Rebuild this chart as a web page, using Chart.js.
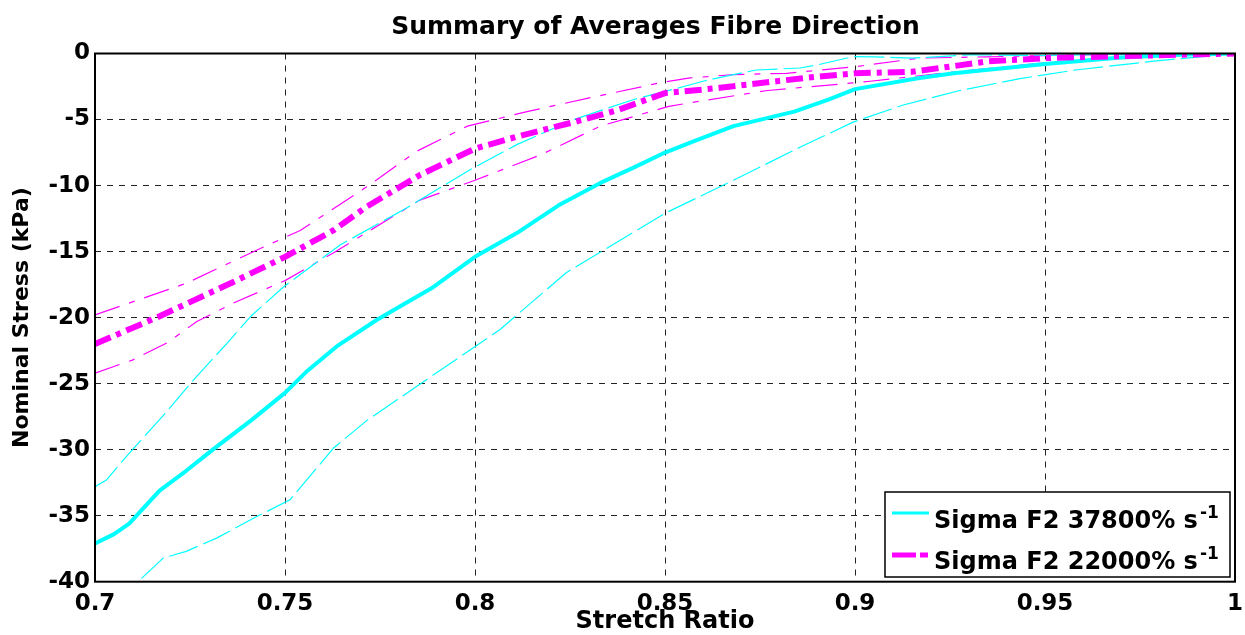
<!DOCTYPE html>
<html>
<head>
<meta charset="utf-8">
<script src="https://cdn.jsdelivr.net/npm/chart.js@4.4.1/dist/chart.umd.min.js"></script>
<style>
  html, body { margin: 0; padding: 0; background: #fff; }
  #wrap { width: 1245px; height: 635px; }
</style>
</head>
<body>
<div id="wrap"><canvas id="c" width="1245" height="635"></canvas></div>
<script>
// ---- data ----
const titleText = 'Summary of Averages Fibre Direction';
const xTitle = 'Stretch Ratio';
const yTitle = 'Nominal Stress (kPa)';
const legendLabels = ['Sigma F2 37800% s', 'Sigma F2 22000% s'];
const legendSup = '-1';

const xTickValues = [0.7, 0.75, 0.8, 0.85, 0.9, 0.95, 1.0];
const xTickLabels = ['0.7', '0.75', '0.8', '0.85', '0.9', '0.95', '1'];
const yTickValues = [-40, -35, -30, -25, -20, -15, -10, -5, 0];
const yTickLabels = ['-40', '-35', '-30', '-25', '-20', '-15', '-10', '-5', '0'];

// cyan (37800 %/s) mean
const cyanMeanX = [0.700,0.705,0.709,0.717,0.724,0.731,0.741,0.750,0.756,0.764,0.774,0.780,0.789,0.800,0.811,0.822,0.833,0.842,0.850,0.858,0.868,0.884,0.893,0.900,0.917,0.926,0.950,0.970,0.985,1.000];
const cyanMeanY = [-37.1,-36.4,-35.6,-33.1,-31.6,-30.0,-27.8,-25.7,-24.0,-22.1,-20.2,-19.2,-17.7,-15.4,-13.6,-11.5,-9.8,-8.6,-7.5,-6.6,-5.5,-4.4,-3.5,-2.7,-1.86,-1.5,-0.8,-0.3,-0.1,0];
// cyan upper bound
const cyanUpX = [0.700,0.703,0.708,0.718,0.726,0.7355,0.741,0.7495,0.7645,0.782,0.7987,0.811,0.826,0.8416,0.855,0.860,0.868,0.874,0.8855,0.890,0.8995,0.905,0.915,0.930,0.950,0.970,1.000];
const cyanUpY = [-32.8,-32.3,-30.6,-27.4,-24.7,-21.7,-19.9,-17.7,-14.5,-11.7,-8.8,-6.9,-5.0,-3.5,-2.5,-2.1,-1.6,-1.25,-1.1,-0.87,-0.24,-0.25,-0.35,-0.1,-0.15,-0.05,0];
// cyan lower bound
const cyanLowX = [0.705,0.7113,0.718,0.724,0.732,0.7417,0.7513,0.7627,0.7715,0.7847,0.8066,0.824,0.850,0.868,0.8855,0.8995,0.9127,0.9276,0.9434,0.958,0.978,1.000];
const cyanLowY = [-41.5,-40,-38.2,-37.7,-36.7,-35.2,-33.8,-29.9,-27.8,-25.2,-20.9,-16.6,-12.1,-9.6,-7.1,-5.2,-3.9,-2.8,-1.9,-1.25,-0.6,0];

// magenta (22000 %/s) mean
const magMeanX = [0.700,0.717,0.7364,0.750,0.7627,0.7715,0.7855,0.800,0.811,0.826,0.8374,0.850,0.8574,0.8645,0.8874,0.900,0.915,0.935,0.950,0.970,1.000];
const magMeanY = [-22.0,-19.9,-17.3,-15.4,-13.4,-11.6,-9.2,-7.2,-6.3,-5.2,-4.3,-3.0,-2.8,-2.6,-1.83,-1.5,-1.38,-0.6,-0.35,-0.2,0];
// magenta upper bound
const magUpX = [0.700,0.724,0.7425,0.754,0.7715,0.7847,0.798,0.8137,0.8295,0.849,0.8566,0.868,0.882,0.900,0.917,0.935,0.960,1.000];
const magUpY = [-19.8,-17.4,-14.9,-13.4,-10.1,-7.4,-5.5,-4.4,-3.4,-2.2,-1.85,-1.6,-1.5,-1.0,-0.35,-0.25,-0.1,0];
// magenta lower bound
const magLowX = [0.700,0.710,0.719,0.7268,0.7364,0.750,0.7627,0.7855,0.800,0.8171,0.833,0.851,0.8584,0.877,0.8987,0.904,0.926,0.950,0.970,1.000];
const magLowY = [-24.2,-23.2,-21.9,-20.3,-18.9,-17.2,-15.1,-11.1,-9.6,-7.7,-5.5,-4.0,-3.65,-2.8,-2.25,-2.1,-1.4,-0.7,-0.35,0];

// ---- styles ----
const CYAN = '#00FFFF';
const MAGENTA = '#FF00FF';
const FONT = 'DejaVu Sans';

function pts(xs, ys) { return xs.map((x, i) => ({ x: x, y: ys[i] })); }

function ds(data, color, width, dash) {
  return {
    data: data, borderColor: color, backgroundColor: color, borderWidth: width,
    borderDash: dash, pointRadius: 0, pointHoverRadius: 0, tension: 0, fill: false,
    borderCapStyle: 'butt', borderJoinStyle: 'round'
  };
}

const datasets = [
  ds(pts(magMeanX, magMeanY), MAGENTA, 6, [17, 6, 5, 6]),
  ds(pts(cyanMeanX, cyanMeanY), CYAN, 4, []),
  ds(pts(cyanUpX, cyanUpY), CYAN, 1.2, [30, 6]),
  ds(pts(cyanLowX, cyanLowY), CYAN, 1.2, [30, 6]),
  ds(pts(magUpX, magUpY), MAGENTA, 1.2, [26, 10, 6, 10]),
  ds(pts(magLowX, magLowY), MAGENTA, 1.2, [26, 10, 6, 10])
];

const decor = {
  id: 'decor',
  afterDraw(chart) {
    const ctx = chart.ctx;
    const a = chart.chartArea;
    ctx.save();
    // box
    ctx.strokeStyle = '#000';
    ctx.lineWidth = 2;
    ctx.setLineDash([]);
    ctx.strokeRect(a.left, a.top, a.right - a.left, a.bottom - a.top);
    // title
    ctx.fillStyle = '#000';
    ctx.font = 'bold 25px "' + FONT + '"';
    ctx.textAlign = 'center';
    ctx.textBaseline = 'alphabetic';
    ctx.fillText(titleText, 655.5, 34);
    // legend
    const lx = 885, ly = 492, lw = 345, lh = 85;
    ctx.fillStyle = '#fff';
    ctx.fillRect(lx, ly, lw, lh);
    ctx.strokeStyle = '#000';
    ctx.lineWidth = 1.5;
    ctx.strokeRect(lx, ly, lw, lh);
    const rows = [
      { color: CYAN, width: 3, dash: [], lineY: 513, base: 528 },
      { color: MAGENTA, width: 5, dash: [24, 4, 8, 4], lineY: 555, base: 569 }
    ];
    rows.forEach((r, i) => {
      ctx.strokeStyle = r.color;
      ctx.lineWidth = r.width;
      ctx.setLineDash(r.dash);
      ctx.beginPath();
      ctx.moveTo(892, r.lineY);
      ctx.lineTo(929, r.lineY);
      ctx.stroke();
      ctx.setLineDash([]);
      ctx.fillStyle = '#000';
      ctx.textAlign = 'left';
      ctx.font = 'bold 24px "' + FONT + '"';
      ctx.fillText(legendLabels[i], 934, r.base);
      const w = ctx.measureText(legendLabels[i]).width;
      ctx.font = 'bold 17px "' + FONT + '"';
      ctx.fillText(legendSup, 934 + w + 2, r.base - 10);
    });
    ctx.restore();
  }
};

new Chart(document.getElementById('c'), {
  type: 'line',
  data: { datasets: datasets },
  plugins: [decor],
  options: {
    responsive: false,
    animation: false,
    events: [],
    layout: { padding: { top: 53.5, right: 10, left: 0, bottom: 0 } },
    plugins: { legend: { display: false }, tooltip: { enabled: false }, title: { display: false } },
    scales: {
      x: {
        type: 'linear', min: 0.7, max: 1.0,
        afterFit(s) { s.height = 53.3; s.paddingLeft = 0; s.paddingRight = 0; },
        afterBuildTicks(s) { s.ticks = xTickValues.map(v => ({ value: v })); },
        ticks: {
          autoSkip: false, maxRotation: 0, minRotation: 0, padding: 9, color: '#000',
          font: { family: FONT, size: 23, weight: 'bold' },
          callback: (v) => { const i = xTickValues.findIndex(t => Math.abs(t - v) < 1e-9); return i >= 0 ? xTickLabels[i] : ''; }
        },
        grid: { color: '#222', lineWidth: 1, drawTicks: false },
        border: { display: false, dash: [6, 6] },
        title: { display: true, text: xTitle, color: '#000', padding: { top: 0, bottom: -1 },
                 font: { family: FONT, size: 24, weight: 'bold' } }
      },
      y: {
        type: 'linear', min: -40, max: 0,
        afterFit(s) { s.width = 95; s.paddingTop = 0; s.paddingBottom = 0; },
        afterBuildTicks(s) { s.ticks = yTickValues.map(v => ({ value: v })); },
        ticks: {
          autoSkip: false, padding: 5, color: '#000',
          font: { family: FONT, size: 23, weight: 'bold' },
          callback: (v) => { const i = yTickValues.indexOf(v); return i >= 0 ? yTickLabels[i] : ''; }
        },
        grid: { color: '#222', lineWidth: 1, drawTicks: false },
        border: { display: false, dash: [6, 6] },
        title: { display: true, text: yTitle, color: '#000', padding: { top: 9, bottom: 0 },
                 font: { family: FONT, size: 22, weight: 'bold' } }
      }
    }
  }
});
</script>
</body>
</html>
